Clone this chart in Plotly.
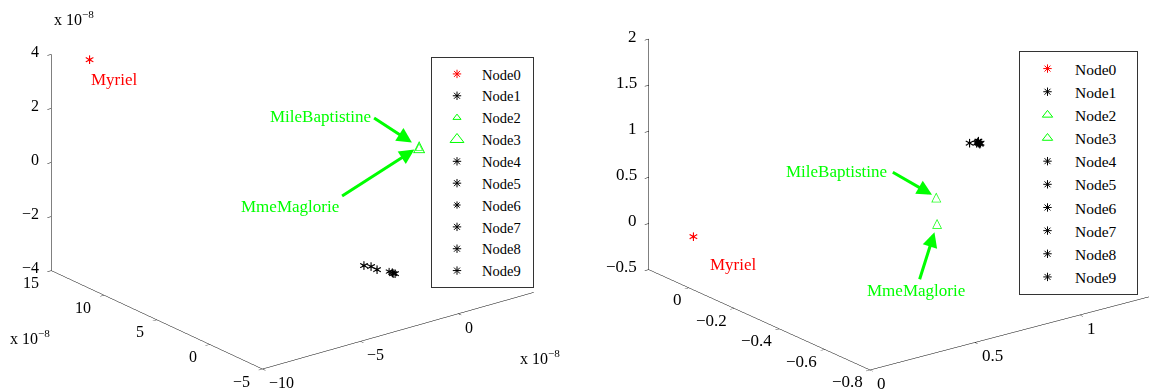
import plotly.graph_objects as go

# ---------------- data ----------------
nodes = ["Node0", "Node1", "Node2", "Node3", "Node4",
         "Node5", "Node6", "Node7", "Node8", "Node9"]

# left panel (values are in data units, axes show them x 10^-8)
left_x = [-8.5e-8, -1.56e-8, 2.75e-8, 2.75e-8, -1.40e-8,
          -1.42e-8, -1.17e-8, -1.18e-8, -1.12e-8, -1.14e-8]
left_y = [14.17e-8, 1.06e-8, 3.83e-8, 3.83e-8, 0.68e-8,
          0.08e-8, -0.60e-8, -1.00e-8, -1.07e-8, -0.84e-8]
left_z = [3.65e-8, -3.0e-8, 0.0, 0.0, -3.0e-8,
          -3.0e-8, -3.0e-8, -3.0e-8, -3.0e-8, -3.0e-8]

# right panel
right_x = [0.14, 1.014, 0.92, 0.87, 1.045, 1.038, 1.054, 1.047, 1.035, 1.041]
right_y = [0.11, -0.300, -0.24, -0.29, -0.307, -0.323, -0.302, -0.318, -0.312, -0.315]
right_z = [-0.15, 0.8, 0.2, 0.0, 0.8, 0.8, 0.8, 0.8, 0.8, 0.8]

# axis ranges / ticks
left_xrange = [-10e-8, 3.85e-8]
left_yrange = [-5e-8, 15e-8]
left_zrange = [-4e-8, 4e-8]
left_xticks = [-10e-8, -5e-8, 0.0]
left_xtext = ["\u221210", "\u22125", "0"]
left_yticks = [-5e-8, 0.0, 5e-8, 10e-8, 15e-8]
left_ytext = ["\u22125", "0", "5", "10", "15"]
left_zticks = [-4e-8, -2e-8, 0.0, 2e-8, 4e-8]
left_ztext = ["\u22124", "\u22122", "0", "2", "4"]

right_xrange = [0.0, 1.36]
right_yrange = [-0.8, 0.177]
right_zrange = [-0.5, 2.0]
right_xticks = [0.0, 0.5, 1.0]
right_xtext = ["0", "0.5", "1"]
right_yticks = [-0.8, -0.6, -0.4, -0.2, 0.0]
right_ytext = ["\u22120.8", "\u22120.6", "\u22120.4", "\u22120.2", "0"]
right_zticks = [-0.5, 0.0, 0.5, 1.0, 1.5, 2.0]
right_ztext = ["\u22120.5", "0", "0.5", "1", "1.5", "2"]

# ---------------- styles ----------------
RED = "#ff0000"
GREEN = "#00ff00"
BLACK = "#000000"
node_colors = [RED, BLACK, GREEN, GREEN, BLACK, BLACK, BLACK, BLACK, BLACK, BLACK]
node_glyph = ["\u2217", "\u2217", "\u25b3", "\u25b3", "\u2217",
              "\u2217", "\u2217", "\u2217", "\u2217", "\u2217"]
left_glyph_size = [14, 14, 10, 16, 14, 14, 12, 14, 14, 14]
right_glyph_size = [14, 14, 13, 13, 14, 14, 14, 14, 14, 14]
legend_symbol = ["asterisk-open", "asterisk-open", "triangle-up-open", "triangle-up-open",
                 "asterisk-open", "asterisk-open", "asterisk-open", "asterisk-open",
                 "asterisk-open", "asterisk-open"]
left_leg_size = [7, 7, 7, 12, 7, 7, 6, 7, 7, 7]
right_leg_size = [7, 7, 9, 9, 7, 7, 7, 7, 7, 7]
NBSP = "\u00a0"

SERIF = "Liberation Serif"

fig = go.Figure()

for i, name in enumerate(nodes):
    fig.add_trace(go.Scatter3d(
        x=[left_x[i]], y=[left_y[i]], z=[left_z[i]], mode="text",
        text=[node_glyph[i]], textposition="middle center",
        textfont=dict(color=node_colors[i], size=left_glyph_size[i], family="DejaVu Sans"),
        showlegend=False, hoverinfo="skip", scene="scene"))
    fig.add_trace(go.Scatter3d(
        x=[right_x[i]], y=[right_y[i]], z=[right_z[i]], mode="text",
        text=[node_glyph[i]], textposition="middle center",
        textfont=dict(color=node_colors[i], size=right_glyph_size[i], family="DejaVu Sans"),
        showlegend=False, hoverinfo="skip", scene="scene2"))

# legend entries
for i, name in enumerate(nodes):
    fig.add_trace(go.Scatter(
        x=[None], y=[None], mode="markers", name=name + NBSP * 2, legend="legend",
        marker=dict(symbol=legend_symbol[i], size=left_leg_size[i], color=node_colors[i],
                    line=dict(color=node_colors[i], width=1))))
for i, name in enumerate(nodes):
    fig.add_trace(go.Scatter(
        x=[None], y=[None], mode="markers", name=name + NBSP * 4, legend="legend2",
        marker=dict(symbol=legend_symbol[i], size=right_leg_size[i], color=node_colors[i],
                    line=dict(color=node_colors[i], width=1))))


def axis(rng, tv):
    return dict(range=rng, tickmode="array", tickvals=tv, showticklabels=False,
                showbackground=False, showgrid=False, zeroline=False,
                showline=True, linecolor="black", linewidth=1,
                ticks="outside", ticklen=5, tickcolor="black",
                showspikes=False, title=dict(text=""), autorange=False)


def arrow(x, y, z, ax, ay, standoff):
    return dict(x=x, y=y, z=z, text="", showarrow=True, ax=ax, ay=ay,
                arrowcolor=GREEN, arrowwidth=3, arrowhead=2, arrowsize=1,
                standoff=standoff)


def label(x, y, z, text, color, xanchor, xshift, yshift, size=17):
    return dict(x=x, y=y, z=z, text=text, showarrow=False, xanchor=xanchor,
                yanchor="middle", xshift=xshift, yshift=yshift,
                font=dict(family=SERIF, size=size, color=color))


def tick_labels(xr, yr, zr, xt, xtt, yt, ytt, zt, ztt, size, yoff):
    out = []
    for v, t in zip(zt, ztt):      # vertical axis on back-left edge
        out.append(label(xr[0], yr[1], v, t, BLACK, "right", -10, 3, size))
    for v, t in zip(yt, ytt):      # depth axis on bottom-left edge
        out.append(label(xr[0], v, zr[0], t, BLACK, "right", yoff, -12, size))
    for v, t in zip(xt, xtt):      # width axis on bottom-right edge
        out.append(label(v, yr[0], zr[0], t, BLACK, "left", 5, -13.5, size))
    return out


def camera(direction, dist, center):
    return dict(center=dict(x=center[0], y=center[1], z=center[2]),
                eye=dict(x=center[0] + direction[0] * dist,
                         y=center[1] + direction[1] * dist,
                         z=center[2] + direction[2] * dist),
                up=dict(x=0, y=0, z=1), projection=dict(type="orthographic"))


left_cam = camera((-0.5725, -0.7354, 0.3628), 2.5, (-0.0450, -0.0159, -0.1033))
right_cam = camera((-0.568, -0.7473, 0.3447), 2.5, (-0.1481, 0.0509, -0.1339))

left_ann = tick_labels(left_xrange, left_yrange, left_zrange, left_xticks, left_xtext,
                       left_yticks, left_ytext, left_zticks, left_ztext, 16, -10.5) + [
    label(left_x[0], left_y[0], left_z[0], "Myriel", RED, "left", 0, -20),
    label(left_x[2], left_y[2], left_z[2], "MileBaptistine", GREEN, "right", -46, 30),
    arrow(left_x[2], left_y[2], left_z[2], -46, -30, 8),
    label(left_x[3], left_y[3], left_z[3], "MmeMaglorie", GREEN, "right", -78, -60),
    arrow(left_x[3], left_y[3], left_z[3], -78, 50, 5),
]
right_ann = tick_labels(right_xrange, right_yrange, right_zrange, right_xticks, right_xtext,
                        right_yticks, right_ytext, right_zticks, right_ztext, 17, -5.5) + [
    label(right_x[0], right_y[0], right_z[0], "Myriel", RED, "left", 14, -28),
    label(right_x[2], right_y[2], right_z[2], "MileBaptistine", GREEN, "right", -47, 26),
    arrow(right_x[2], right_y[2], right_z[2], -45, -26, 5),
    label(right_x[3], right_y[3], right_z[3], "MmeMaglorie", GREEN, "center", -21, -67),
    arrow(right_x[3], right_y[3], right_z[3], -18, 57, 9),
]

fig.update_layout(
    width=1149, height=390, margin=dict(l=0, r=0, t=0, b=0),
    template="none", paper_bgcolor="white", plot_bgcolor="white",
    showlegend=True,
    xaxis=dict(visible=False, domain=[0, 0.01]),
    yaxis=dict(visible=False, domain=[0, 0.01]),
    scene=dict(
        domain=dict(x=[0, 0.5], y=[0, 1]),
        aspectmode="manual", aspectratio=dict(x=1.763, y=1.763, z=1.190),
        camera=left_cam,
        xaxis=axis(left_xrange, left_xticks),
        yaxis=axis(left_yrange, left_yticks),
        zaxis=axis(left_zrange, left_zticks),
        annotations=left_ann,
    ),
    scene2=dict(
        domain=dict(x=[0.52, 1], y=[0, 1]),
        aspectmode="manual", aspectratio=dict(x=1.8375, y=1.875, z=1.259),
        camera=right_cam,
        xaxis=axis(right_xrange, right_xticks),
        yaxis=axis(right_yrange, right_yticks),
        zaxis=axis(right_zrange, right_zticks),
        annotations=right_ann,
    ),
    legend=dict(x=431 / 1149, y=1 - 57 / 390, xanchor="left", yanchor="top",
                bgcolor="white", bordercolor="#333333", borderwidth=1,
                font=dict(family=SERIF, size=14.5, color="black"), itemwidth=40,
                tracegroupgap=0),
    legend2=dict(x=1019 / 1149, y=1 - 51 / 390, xanchor="left", yanchor="top",
                 bgcolor="white", bordercolor="#333333", borderwidth=1,
                 font=dict(family=SERIF, size=15.5, color="black"), itemwidth=45,
                 tracegroupgap=0),
    annotations=[
        dict(xref="paper", yref="paper", x=52 / 1149, y=1 - 18 / 390, xanchor="left",
             yanchor="middle", text="x 10<sup>\u22128</sup>", showarrow=False,
             font=dict(family=SERIF, size=16, color="black")),
        dict(xref="paper", yref="paper", x=8 / 1149, y=1 - 337 / 390, xanchor="left",
             yanchor="middle", text="x 10<sup>\u22128</sup>", showarrow=False,
             font=dict(family=SERIF, size=16, color="black")),
        dict(xref="paper", yref="paper", x=518 / 1149, y=1 - 357 / 390, xanchor="left",
             yanchor="middle", text="x 10<sup>\u22128</sup>", showarrow=False,
             font=dict(family=SERIF, size=16, color="black")),
    ],
)

fig.write_html("out.html")
